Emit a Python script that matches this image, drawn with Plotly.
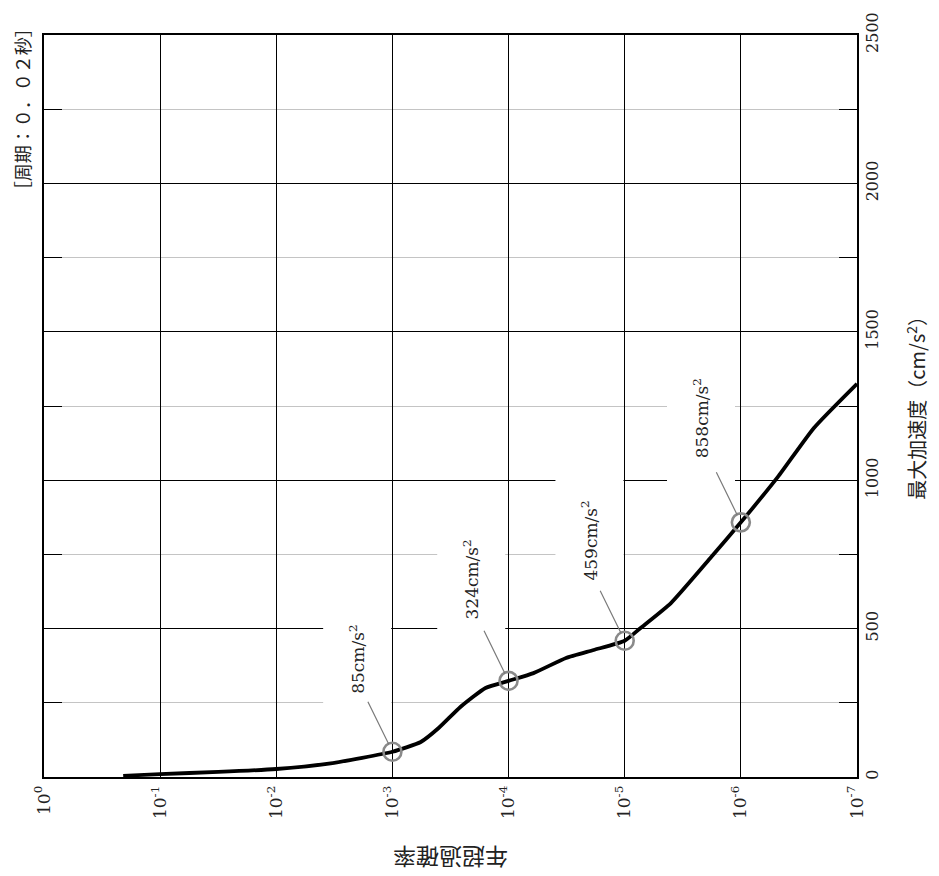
import math
import plotly.graph_objects as go

# ---- data ----
exceed_prob = [2.08e-1, 1.0e-1, 3.16e-2, 1.0e-2, 3.4e-3, 1.0e-3,
               5.7e-4, 4.0e-4, 2.6e-4, 1.58e-4, 1.0e-4, 6.1e-5, 3.2e-5, 1.85e-5,
               1.0e-5, 7.3e-6, 4.0e-6, 1.8e-6, 1.0e-6, 4.8e-7, 2.35e-7, 1.0e-7]
peak_acc = [4, 10, 17, 27, 46, 85,
            118, 165, 236, 300, 324, 350, 401, 428,
            459, 502, 586, 741, 858, 1011, 1176, 1325]

mark_prob = [1e-3, 1e-4, 1e-5, 1e-6]
mark_acc = [85, 324, 459, 858]

x_tickvals = [1, 1e-1, 1e-2, 1e-3, 1e-4, 1e-5, 1e-6, 1e-7]
x_ticktext = ["10<sup>0</sup>", "10<sup>-1</sup>", "10<sup>-2</sup>", "10<sup>-3</sup>",
              "10<sup>-4</sup>", "10<sup>-5</sup>", "10<sup>-6</sup>", "10<sup>-7</sup>"]
y_tickvals = [0, 500, 1000, 1500, 2000, 2500]

SERIF = "DejaVu Serif"
CJK = "Noto Sans CJK JP"

fig = go.Figure()
fig.add_trace(go.Scatter(x=exceed_prob, y=peak_acc, mode="lines",
                         line=dict(color="black", width=3.8, shape="spline", smoothing=0.5),
                         hoverinfo="skip", showlegend=False))
fig.add_trace(go.Scatter(x=mark_prob, y=mark_acc, mode="markers",
                         marker=dict(symbol="circle-open", size=18, color="#8a8a8a",
                                     line=dict(width=2.6, color="#8a8a8a")),
                         showlegend=False))

# label boxes (white background hides grid lines) then leader lines
shifts = [(-35, 93), (-37, 101), (-35, 100), (-40, 104)]
for p, a, (dx, dy) in zip(mark_prob, mark_acc, shifts):
    fig.add_annotation(x=math.log10(p), y=a, xref="x", yref="y", showarrow=False,
                       text=f"{a}cm/s<sup>2</sup>", textangle=-90,
                       xshift=dx, yshift=dy, width=150, height=67,
                       bgcolor="white", borderpad=0,
                       font=dict(family=SERIF, size=17, color="#222"))
for p, a in zip(mark_prob, mark_acc):
    fig.add_annotation(x=math.log10(p), y=a, xref="x", yref="y", text=" ", showarrow=True,
                       arrowhead=0, arrowwidth=1.2, arrowcolor="#7a7a7a",
                       ax=-26, ay=-53, standoff=8, font=dict(size=2))

fig.add_annotation(xref="paper", yref="paper", x=-0.027, y=0.9, xanchor="center",
                   yanchor="middle", text="［周期：０．０２秒］", textangle=-90,
                   showarrow=False, font=dict(family=CJK, size=18, color="#222"))
fig.add_annotation(xref="paper", yref="paper", x=1.073, y=0.505, xanchor="center",
                   yanchor="middle", text="最大加速度（cm/s<sup>2</sup>）", textangle=-90,
                   showarrow=False, font=dict(family=CJK, size=20, color="#222"))
fig.add_annotation(xref="paper", yref="paper", x=0.5, y=-0.11, xanchor="center",
                   yanchor="middle", text="年超過確率", textangle=180,
                   showarrow=False, font=dict(family=CJK, size=23, color="#222"))

fig.update_xaxes(type="log", range=[0, -7], tickvals=x_tickvals, ticktext=x_ticktext,
                 tickangle=-90, showgrid=True, gridcolor="black", gridwidth=1.4,
                 showline=True, linecolor="black", linewidth=2, mirror=True,
                 ticks="", zeroline=False, automargin=False,
                 tickfont=dict(family=SERIF, size=17, color="#222"))
fig.update_yaxes(side="right", range=[0, 2500], tickvals=y_tickvals, tickangle=-90,
                 showgrid=True, gridcolor="black", gridwidth=1.4,
                 showline=True, linecolor="black", linewidth=2, mirror="ticks",
                 ticks="inside", ticklen=28, tickwidth=1.4, tickcolor="black",
                 zeroline=False, automargin=False,
                 minor=dict(dtick=250, showgrid=True, gridcolor="#c4c4c4", gridwidth=1.4,
                            ticks="inside", ticklen=18, tickwidth=1.4, tickcolor="black"),
                 tickfont=dict(family=SERIF, size=16, color="#222"))

# page body has an 8px margin, so the figure is 8px smaller than the window
fig.update_layout(width=931, height=868, margin=dict(l=36, r=82, t=27, b=99),
                  plot_bgcolor="white", paper_bgcolor="white", showlegend=False)

fig.write_html("out.html")
